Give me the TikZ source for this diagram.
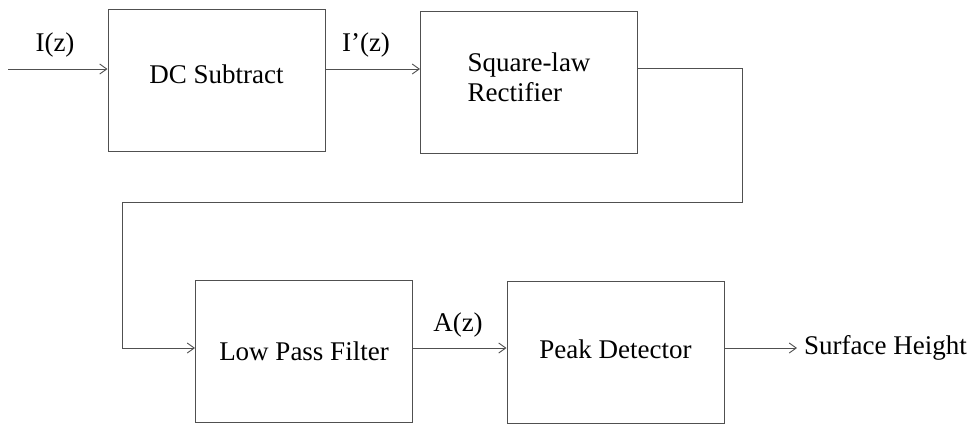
\documentclass[tikz,border=0pt]{standalone}
\usepackage{fontspec}
\setmainfont{Liberation Serif}
\usetikzlibrary{arrows.meta}
\definecolor{linegray}{HTML}{505050}
\begin{document}
\begin{tikzpicture}[x=1pt,y=-1pt,
  blk/.style={draw=linegray,line width=1pt,minimum width=217pt,minimum height=142pt,inner sep=0pt,font=\fontsize{27}{30}\selectfont},
  lbl/.style={font=\fontsize{27}{30}\selectfont,inner sep=0pt},
  conn/.style={draw=linegray,line width=0.9pt,-{Straight Barb[length=7pt,width=10pt]}},
  wire/.style={draw=linegray,line width=0.9pt}]
\useasboundingbox[fill=white] (0,0) rectangle (970,424);
\node[blk,text depth=12pt] (dc) at (216.5,80.5) {DC Subtract};
\node[blk,align=left,text depth=10pt] (slr) at (529,82) {Square-law\\Rectifier};
\node[blk] (lpf) at (304,351) {Low Pass Filter};
\node[blk,text depth=6pt] (pd) at (615.5,352) {Peak Detector};
\coordinate (in) at (8,69);
\coordinate (c1) at (742,68);
\coordinate (c2) at (742,202);
\coordinate (c3) at (122,202);
\coordinate (c4) at (122,348);
\coordinate (o) at (797,348);
\node[lbl] (liz) at (55,45) {I(z)};
\node[lbl] (lipz) at (366,45) {I’(z)};
\node[lbl] (laz) at (458,325) {A(z)};
\node[lbl,anchor=west] (sh) at (804,348) {Surface Height};
\draw[conn] (in) -- (in -| dc.west);
\draw[conn] (dc.east |- in) -- (slr.west |- in);
\draw[wire] (slr.east |- c1) -- (c1) -- (c2) -- (c3) -- (c4);
\draw[conn] (c4) -- (lpf.west |- c4);
\draw[conn] (lpf.east |- c4) -- (pd.west |- c4);
\draw[conn] (pd.east |- c4) -- (o);
\end{tikzpicture}
\end{document}
